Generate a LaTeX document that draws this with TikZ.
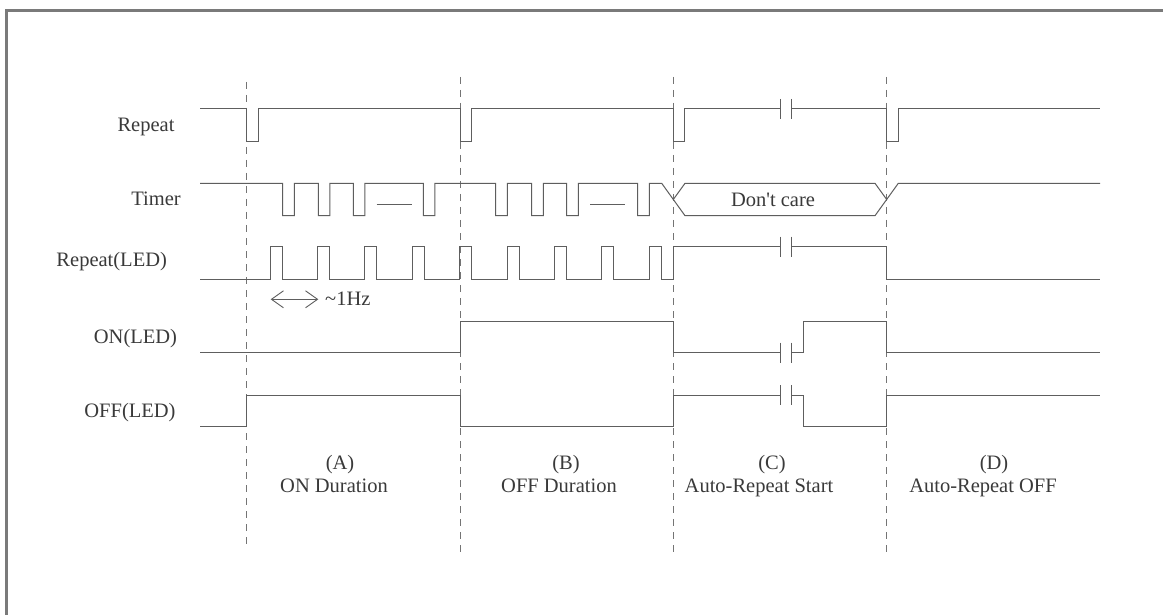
\documentclass[tikz,border=0pt]{standalone}
\usepackage{fontspec}
\setmainfont{Liberation Serif}
\usetikzlibrary{arrows.meta}
\definecolor{wavec}{HTML}{5E5E5E}
\definecolor{txtc}{HTML}{3A3A3A}
\definecolor{framec}{HTML}{7A7A7A}
\definecolor{vlinec}{HTML}{747474}
\begin{document}
\begin{tikzpicture}[x=1pt,y=-1pt,
  wave/.style={draw=wavec, line width=1pt, line join=miter},
  vline/.style={draw=vlinec, line width=0.9pt, dash pattern=on 7pt off 6pt},
  lbl/.style={text=txtc, font=\fontsize{20.5}{24}\selectfont, inner sep=0pt},
  barb/.style={{Straight Barb[length=12pt,width=17pt]}-{Straight Barb[length=12pt,width=17pt]}}]
\useasboundingbox (0,0) rectangle (1163,615);
\fill[white] (0,0) rectangle (1163,615);
% frame (cut at right and bottom)
\draw[framec, line width=3pt] (6.7,630) -- (6.7,11) -- (1175,11);

% section boundaries
\draw[vline] (246.7,82) -- (246.7,546);
\draw[vline] (460,77) -- (460,553);
\draw[vline] (673.3,77) -- (673.3,553);
\draw[vline] (886.7,77) -- (886.7,553);

% signal names
\node[lbl, anchor=base] (nrep)  at (146,132) {Repeat};
\node[lbl, anchor=base] (ntim)  at (156,206) {Timer};
\node[lbl, anchor=base] (nrled) at (111.7,266.5) {Repeat(LED)};
\node[lbl, anchor=base] (non)   at (135.5,343.5) {ON(LED)};
\node[lbl, anchor=base] (noff)  at (130,417) {OFF(LED)};

% Repeat
\draw[wave] (200,109)
  \foreach \x in {246.7,460,673.3} { -- (\x,109) -- (\x,141.7) -- ({\x+11.6},141.7) -- ({\x+11.6},109) }
  -- (780,109);
\draw[wave] (791.7,109) -- (886.7,109) -- (886.7,141.7) -- (898.3,141.7) -- (898.3,109) -- (1100,109);

% Timer
\draw[wave] (200,183.3)
  \foreach \x in {282.7,318.3,353.3,423.3,495.7,531.7,566.7,637.7} { -- (\x,183.3) -- (\x,215.7) -- ({\x+11.6},215.7) -- ({\x+11.6},183.3) }
  -- (661.7,183.3) -- (685,215.7) -- (875,215.7) -- (898.3,183.3) -- (1100,183.3);
\draw[wave] (673.3,199.5) -- (685,183.3) -- (875,183.3) -- (886.7,199.5);
\draw[wave] (376.7,205) -- (411.7,205);
\draw[wave] (590,205) -- (625,205);
\node[lbl] (dc) at (773,199.5) {Don\textquotesingle t care};

% Repeat(LED)
\draw[wave] (200,279)
  \foreach \k in {0,...,8} { -- ({270+47.4*\k},279) -- ({270+47.4*\k},246.6) -- ({282+47.4*\k},246.6) -- ({282+47.4*\k},279) }
  -- (673.3,279) -- (673.3,246.6) -- (780,246.6);
\draw[wave] (791.7,246.6) -- (886.7,246.6) -- (886.7,279) -- (1100,279);

% ~1Hz
\coordinate (hzl) at (270.7,299.3);
\coordinate (hzr) at (318.3,299.3);
\draw[wave, line width=0.9pt, barb] (hzl) -- (hzr);
\node[lbl, anchor=base west] (hz) at (325,305) {\textasciitilde 1Hz};

% ON(LED)
\draw[wave] (200,352.7) -- (460,352.7) -- (460,321) -- (673.3,321) -- (673.3,352.7) -- (780,352.7);
\draw[wave] (791.7,352.7) -- (803.3,352.7) -- (803.3,321) -- (886.7,321) -- (886.7,352.7) -- (1100,352.7);

% OFF(LED)
\draw[wave] (200,426.7) -- (246.7,426.7) -- (246.7,395) -- (460,395) -- (460,426.7) -- (673.3,426.7) -- (673.3,395) -- (780,395);
\draw[wave] (791.7,395) -- (803.3,395) -- (803.3,426.7) -- (886.7,426.7) -- (886.7,395) -- (1100,395);

% break marks
\foreach \y in {109,246.6,352.7,395} {
  \draw[wave] (780,{\y-10}) -- (780,{\y+10}) (791.7,{\y-10}) -- (791.7,{\y+10});
}

% section labels
\node[lbl, anchor=base] (la1) at (340,469.5) {(A)};
\node[lbl, anchor=base] (la2) at (334,492) {ON Duration};
\node[lbl, anchor=base] (lb1) at (566,469.5) {(B)};
\node[lbl, anchor=base] (lb2) at (559,492) {OFF Duration};
\node[lbl, anchor=base] (lc1) at (772,469.5) {(C)};
\node[lbl, anchor=base] (lc2) at (759,492) {Auto-Repeat Start};
\node[lbl, anchor=base] (ld1) at (994,469.5) {(D)};
\node[lbl, anchor=base] (ld2) at (983,492) {Auto-Repeat OFF};
\end{tikzpicture}
\end{document}
